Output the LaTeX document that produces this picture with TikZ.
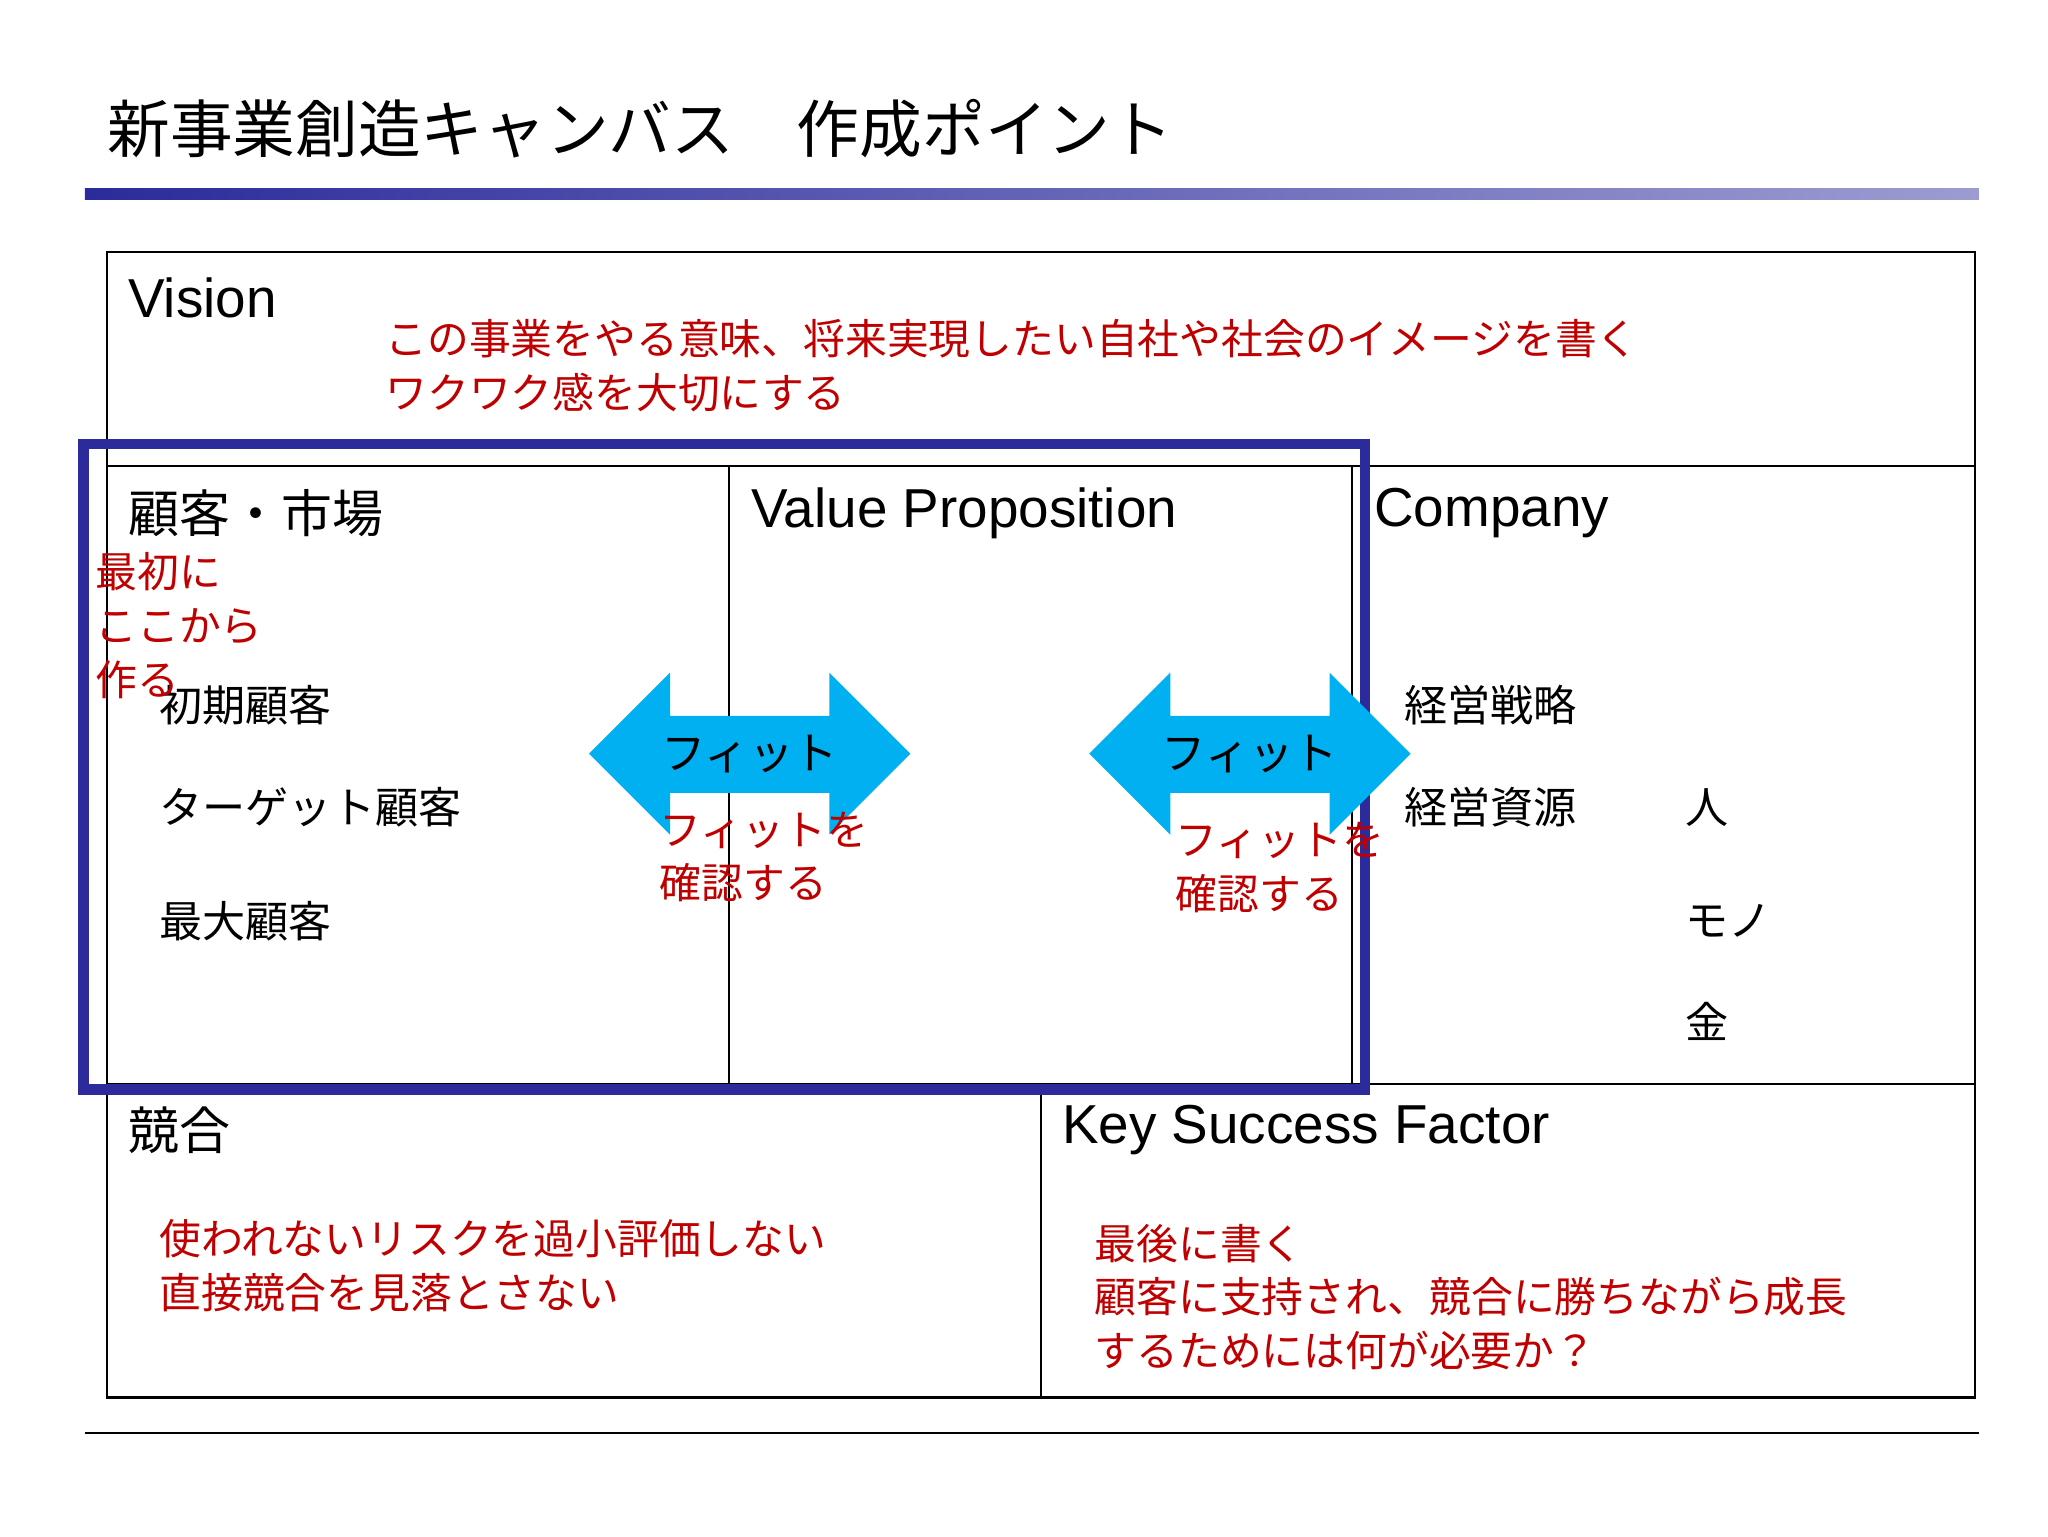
\documentclass[tikz,border=0pt]{standalone}
\usepackage{fontspec}
\setmainfont{Liberation Sans}
\newfontfamily\jp{Noto Sans CJK JP}
\definecolor{navy}{HTML}{2B2B9B}
\definecolor{lnavy}{HTML}{9C9CD2}
\definecolor{rd}{HTML}{C00000}
\definecolor{cy}{HTML}{00B0F0}
\begin{document}
\begin{tikzpicture}[x=1pt,y=-1pt,
  lbl/.style={anchor=west,inner sep=0pt,font=\fontsize{42}{46}\selectfont},
  jl/.style={anchor=west,inner sep=0pt,font=\jp\fontsize{39}{44}\selectfont},
  item/.style={anchor=west,inner sep=0pt,font=\jp\fontsize{33}{38}\selectfont},
  note/.style={anchor=west,inner sep=0pt,text=rd,align=left,font=\jp\fontsize{32}{41}\selectfont},
  fit/.style={inner sep=0pt,font=\jp\fontsize{34}{36}\selectfont}]
\useasboundingbox (0,0) rectangle (1568,1176);
\fill[white] (0,0) rectangle (1568,1176);
\node[anchor=base west,inner sep=0pt,font=\jp\fontsize{48}{52}\selectfont] (title) at (82,117) {新事業創造キャンバス　作成ポイント};
\shade[left color=navy,right color=lnavy] (65,144) rectangle (1515,153);
% grid
\draw[line width=1.8] (82,193) rectangle (1512,1070);
\draw[line width=1.8] (82,357) -- (1512,357) (82,830) -- (1512,830)
  (558,357) -- (558,830) (1035,357) -- (1035,830) (797,830) -- (797,1070);
\draw[line width=1.8] (65,1097) -- (1515,1097);
\draw[navy,line width=8] (64,340) rectangle (1045,834);
% arrows
\foreach \x in {451,834}{
  \fill[cy] (\x,577) -- ++(62,-62) -- ++(0,33) -- ++(122,0) -- ++(0,-33) -- ++(62,62)
    -- ++(-62,62) -- ++(0,-32) -- ++(-122,0) -- ++(0,32) -- cycle;}
\node[fit] (f1) at (574,577) {フィット};
\node[fit] (f2) at (957,577) {フィット};
% labels
\node[lbl] (vis) at (98,228) {Vision};
\node[note] (vnote) at (295,280) {この事業をやる意味、将来実現したい自社や社会のイメージを書く\\ワクワク感を大切にする};
\node[jl] (cust) at (98,393) {顧客・市場};
\node[lbl] (vp) at (575,393) {Value Proposition};
\node[lbl] (comp) at (1052,393) {Company};
\node[item] (c1) at (122,540) {初期顧客};
\node[item] (c2) at (122,618) {ターゲット顧客};
\node[item] (c3) at (122,705) {最大顧客};
\node[note] (first) at (73,479) {最初に\\ここから\\作る};
\node[note] (n1) at (505,656) {フィットを\\確認する};
\node[note] (n2) at (900,664) {フィットを\\確認する};
\node[item] (k1) at (1075,540) {経営戦略};
\node[item] (k2) at (1075,618) {経営資源};
\node[item] (r1) at (1290,618) {人};
\node[item] (r2) at (1290,705) {モノ};
\node[item] (r3) at (1290,782) {金};
\node[jl] (comp2) at (98,865) {競合};
\node[note] (cnote) at (122,969) {使われないリスクを過小評価しない\\直接競合を見落とさない};
\node[lbl] (ksf) at (813,865) {Key Success Factor};
\node[note] (knote) at (838,993) {最後に書く\\顧客に支持され、競合に勝ちながら成長\\するためには何が必要か？};
\end{tikzpicture}
\end{document}
